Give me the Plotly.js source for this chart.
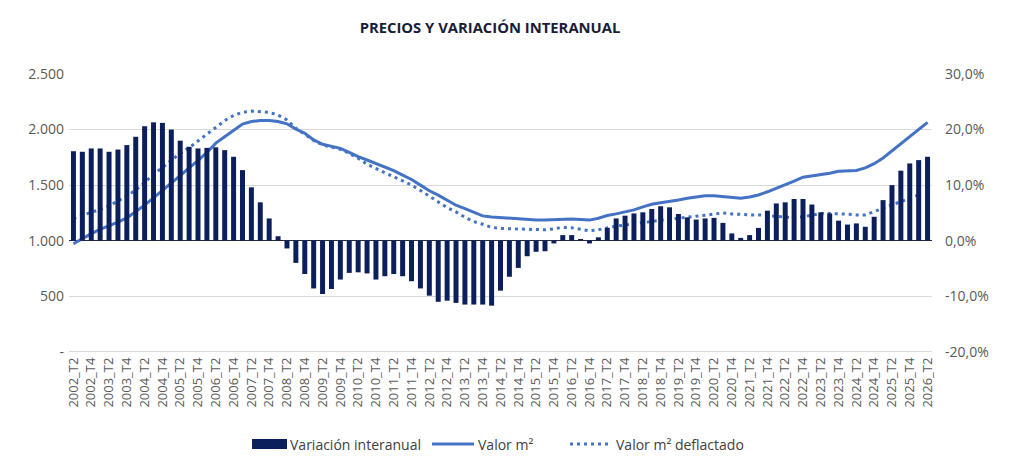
<!DOCTYPE html>
<html>
<head>
<meta charset="utf-8">
<script src="https://cdn.plot.ly/plotly-3.0.1.min.js"></script>
<style>
  html, body { margin: 0; padding: 0; background: #ffffff; }
  #chart { width: 1024px; height: 470px; }
</style>
</head>
<body>
<div id="chart"></div>
<script>
// Quarterly categories 2002_T2 … 2026_T2
const quarters = [];
for (let y = 2002; y <= 2026; y++) {
  for (let q = 1; q <= 4; q++) {
    if (y === 2002 && q < 2) continue;
    if (y === 2026 && q > 2) continue;
    quarters.push(y + '_T' + q);
  }
}
// Only half-year labels are shown on the axis
const tickLabels = quarters.filter(function (c) { return /_T[24]$/.test(c); });

// Year-on-year change (%), right axis
const variacionInteranual = [
  16.1, 16.0, 16.6, 16.6, 16.0, 16.4, 17.2, 18.7, 20.6, 21.3,
  21.2, 20.0, 18.0, 16.9, 16.6, 16.7, 16.8, 16.3, 15.1, 12.7,
  9.6, 6.9, 4.0, 0.8, -1.4, -4.0, -6.0, -8.6, -9.6, -8.7,
  -7.0, -5.8, -5.7, -5.9, -7.0, -6.4, -6.0, -6.4, -7.3, -8.6,
  -9.9, -11.0, -10.8, -11.2, -11.5, -11.5, -11.5, -11.7, -9.0, -6.5,
  -4.9, -2.8, -2.0, -1.9, -0.5, 1.0, 1.0, 0.3, -0.5, 0.6,
  2.3, 4.0, 4.5, 4.9, 5.1, 5.7, 6.2, 6.0, 4.8, 4.2,
  3.8, 4.0, 4.1, 3.2, 1.3, 0.5, 1.0, 2.3, 5.4, 6.7,
  6.9, 7.5, 7.5, 6.5, 5.1, 4.9, 3.6, 2.9, 3.1, 2.5,
  4.3, 7.3, 10.0, 12.6, 13.9, 14.5, 15.1
];

// Price per m² (€), left axis
const valorM2 = [
  972, 1018, 1063, 1102, 1132, 1167, 1205, 1260, 1320, 1385,
  1450, 1520, 1585, 1655, 1720, 1794, 1878, 1935, 1992, 2049,
  2073, 2082, 2082, 2072, 2052, 2004, 1967, 1907, 1867, 1846,
  1831, 1795, 1756, 1726, 1696, 1666, 1630, 1590, 1551, 1500,
  1449, 1410, 1364, 1319, 1289, 1253, 1223, 1214, 1207, 1202,
  1195, 1187, 1185, 1185, 1190, 1195, 1196, 1190, 1185, 1202,
  1226, 1241, 1259, 1277, 1304, 1327, 1342, 1351, 1366, 1381,
  1393, 1405, 1405, 1398, 1387, 1382, 1393, 1411, 1440, 1470,
  1506, 1536, 1571, 1583, 1589, 1607, 1625, 1625, 1631, 1655,
  1693, 1744, 1809, 1872, 1937, 2000, 2065
];

// Deflated price per m² (€), left axis
const valorM2Deflactado = [
  1200, 1231, 1255, 1281, 1314, 1356, 1405, 1454, 1523, 1600,
  1657, 1726, 1788, 1837, 1899, 1957, 2023, 2080, 2127, 2155,
  2166, 2163, 2155, 2130, 2087, 2012, 1960, 1902, 1862, 1840,
  1822, 1785, 1741, 1687, 1651, 1614, 1578, 1542, 1500, 1452,
  1404, 1349, 1298, 1259, 1211, 1172, 1148, 1120, 1110, 1107,
  1104, 1101, 1095, 1098, 1107, 1119, 1116, 1101, 1089, 1098,
  1116, 1131, 1140, 1149, 1161, 1173, 1185, 1190, 1202, 1214,
  1220, 1229, 1241, 1250, 1241, 1235, 1232, 1232, 1229, 1220,
  1211, 1208, 1214, 1232, 1244, 1244, 1244, 1238, 1232, 1232,
  1262, 1292, 1318, 1345, 1381, 1411, null
];

const leftTicks = [0, 500, 1000, 1500, 2000, 2500];
const leftTickText = ['-', '500', '1.000', '1.500', '2.000', '2.500'];
const rightTicks = [-20, -10, 0, 10, 20, 30];
const rightTickText = ['-20,0%', '-10,0%', '0,0%', '10,0%', '20,0%', '30,0%'];

const NAVY = '#0b1f5c';
const BLUE = '#4472c4';
const GREY_TEXT = '#595959';
const FONT = 'Open Sans, Noto Sans, sans-serif';

// Plot area geometry (px) used to place the hand-drawn legend
const M = { l: 69, r: 92, t: 74, b: 118 };
const W = 1024, H = 470;
const PW = W - M.l - M.r, PH = H - M.t - M.b;
const px = function (x) { return (x - M.l) / PW; };
const py = function (y) { return (H - M.b - y) / PH; };

const traces = [
  {
    type: 'bar', name: 'Variación interanual',
    x: quarters, y: variacionInteranual, yaxis: 'y2',
    marker: { color: NAVY }, showlegend: false,
    hovertemplate: '%{x}: %{y:.1f}%<extra></extra>'
  },
  {
    type: 'scatter', mode: 'lines', name: 'Valor m²',
    x: quarters, y: valorM2,
    line: { color: BLUE, width: 3 }, showlegend: false
  },
  {
    type: 'scatter', mode: 'lines', name: 'Valor m² deflactado',
    x: quarters, y: valorM2Deflactado,
    line: { color: BLUE, width: 3, dash: '3px,4px' }, showlegend: false
  }
];

// Both axes share gridlines: 1.000 on the left sits on 0,0% on the right
const leftRange = [-2, 2500];
const rightRange = [(leftRange[0] - 1000) / 50, (leftRange[1] - 1000) / 50];

const legendY = 444;
const layout = {
  width: W, height: H,
  margin: M,
  paper_bgcolor: '#ffffff', plot_bgcolor: '#ffffff',
  font: { family: FONT, color: GREY_TEXT },
  title: {
    text: 'PRECIOS Y VARIACIÓN INTERANUAL',
    font: { family: FONT, size: 14.8, color: '#191c38', weight: 'bold' },
    x: 490 / W, xanchor: 'center', xref: 'container',
    y: 1 - 28 / H, yanchor: 'middle', yref: 'container'
  },
  bargap: 0.44,
  showlegend: false,
  xaxis: {
    type: 'category',
    categoryorder: 'array', categoryarray: quarters,
    tickmode: 'array', tickvals: tickLabels, ticktext: tickLabels,
    tickangle: -90,
    tickfont: { family: FONT, size: 13, color: GREY_TEXT },
    showgrid: false, showline: false, zeroline: false, ticks: '',
    ticklabelstandoff: 2
  },
  yaxis: {
    range: leftRange,
    tickmode: 'array', tickvals: leftTicks, ticktext: leftTickText,
    tickfont: { family: FONT, size: 14, color: GREY_TEXT },
    showgrid: true, gridcolor: '#d9d9d9', gridwidth: 1,
    zeroline: true, zerolinecolor: '#d9d9d9', zerolinewidth: 1,
    showline: false, ticks: '', ticklabelstandoff: 4
  },
  yaxis2: {
    range: rightRange, overlaying: 'y', side: 'right',
    tickmode: 'array', tickvals: rightTicks, ticktext: rightTickText,
    tickfont: { family: FONT, size: 14, color: GREY_TEXT },
    showgrid: false,
    zeroline: true, zerolinecolor: '#262b44', zerolinewidth: 1,
    showline: false, ticks: '', ticklabelstandoff: 12
  },
  shapes: [
    { type: 'rect', xref: 'paper', yref: 'paper',
      x0: px(252), x1: px(287), y0: py(449), y1: py(439),
      fillcolor: NAVY, line: { width: 0 } },
    { type: 'line', xref: 'paper', yref: 'paper',
      x0: px(432), x1: px(474), y0: py(legendY), y1: py(legendY),
      line: { color: BLUE, width: 3 } },
    { type: 'line', xref: 'paper', yref: 'paper',
      x0: px(570), x1: px(612), y0: py(legendY), y1: py(legendY),
      line: { color: BLUE, width: 3, dash: '3px,4px' } }
  ],
  annotations: [
    { xref: 'paper', yref: 'paper', x: px(288), y: py(legendY),
      xanchor: 'left', yanchor: 'middle', showarrow: false,
      text: 'Variación interanual', font: { family: FONT, size: 14, color: '#404040' } },
    { xref: 'paper', yref: 'paper', x: px(476), y: py(legendY),
      xanchor: 'left', yanchor: 'middle', showarrow: false,
      text: 'Valor m²', font: { family: FONT, size: 14, color: '#404040' } },
    { xref: 'paper', yref: 'paper', x: px(614), y: py(legendY),
      xanchor: 'left', yanchor: 'middle', showarrow: false,
      text: 'Valor m² deflactado', font: { family: FONT, size: 14, color: '#404040' } }
  ]
};

Plotly.newPlot('chart', traces, layout, { displayModeBar: false, staticPlot: true });
</script>
</body>
</html>
